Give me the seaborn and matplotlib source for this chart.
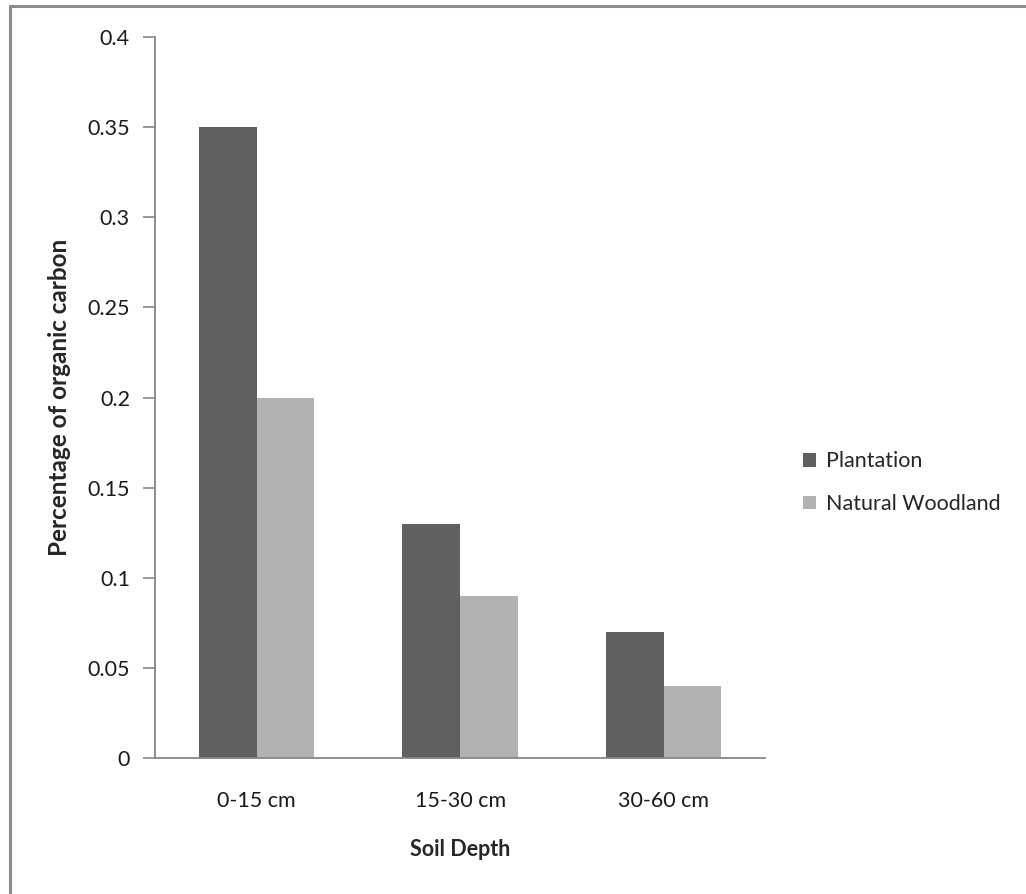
import seaborn as sns
import pandas as pd
import matplotlib.pyplot as plt
from matplotlib.lines import Line2D

# data
depths = ["0-15 cm", "15-30 cm", "30-60 cm"]
plantation = [0.35, 0.13, 0.07]
woodland = [0.20, 0.09, 0.04]
y_ticks = [0, 0.05, 0.1, 0.15, 0.2, 0.25, 0.3, 0.35, 0.4]
y_tick_labels = ["0", "0.05", "0.1", "0.15", "0.2", "0.25", "0.3", "0.35", "0.4"]

df = pd.DataFrame({
    "Soil Depth": depths * 2,
    "Carbon": plantation + woodland,
    "Site": ["Plantation"] * len(depths) + ["Natural Woodland"] * len(depths),
})

sns.set_style("white")
plt.rcParams["font.family"] = ["Lato", "DejaVu Sans"]

spine_col = "#868686"
fig = plt.figure(figsize=(10.26, 8.94), dpi=100)
ax = fig.add_axes([0.151, 0.152, 0.595, 0.8066])

sns.barplot(data=df, x="Soil Depth", y="Carbon", hue="Site",
            palette=["#606060", "#b2b2b2"], width=0.567, gap=0,
            edgecolor="none", linewidth=0, ax=ax)

ax.set_xlim(-0.5, 2.5)
ax.set_ylim(0, 0.4)
ax.set_yticks(y_ticks)
ax.set_yticklabels(y_tick_labels, fontsize=15.5, color="#1a1a1a")
ax.set_xticks(range(len(depths)))
ax.set_xticklabels(depths, fontsize=15.5, color="#1a1a1a")
ax.set_xticks([-0.5, 0.5, 1.5, 2.5], minor=True)
ax.tick_params(axis="x", which="major", length=0, pad=24)
ax.tick_params(axis="x", which="minor", length=9, width=1.2, color=spine_col, direction="out")
ax.tick_params(axis="y", length=9, width=1.2, color=spine_col, direction="out", pad=9, left=True)

for side in ["top", "right"]:
    ax.spines[side].set_visible(False)
for side in ["left", "bottom"]:
    ax.spines[side].set_color(spine_col)
    ax.spines[side].set_linewidth(1.3)

ax.set_xlabel("Soil Depth", fontsize=15.5, fontweight="bold", labelpad=20)
ax.set_ylabel("Percentage of organic carbon", fontsize=17.5, fontweight="bold", labelpad=12)

handles, labels = ax.get_legend_handles_labels()
ax.legend(handles, labels, loc="center left", bbox_to_anchor=(1.03, 0.382),
          frameon=False, fontsize=15.5, handlelength=0.6, handleheight=0.6,
          handletextpad=0.45, labelspacing=1.05)

# partial outer border (top and left only)
fig.add_artist(Line2D([0.0097, 1.0], [0.9933, 0.9933], color="#8c8c8c", lw=2.2,
                      transform=fig.transFigure))
fig.add_artist(Line2D([0.0097, 0.0097], [0.0, 0.9933], color="#8c8c8c", lw=2.2,
                      transform=fig.transFigure))

plt.savefig("out.png", dpi=100)
